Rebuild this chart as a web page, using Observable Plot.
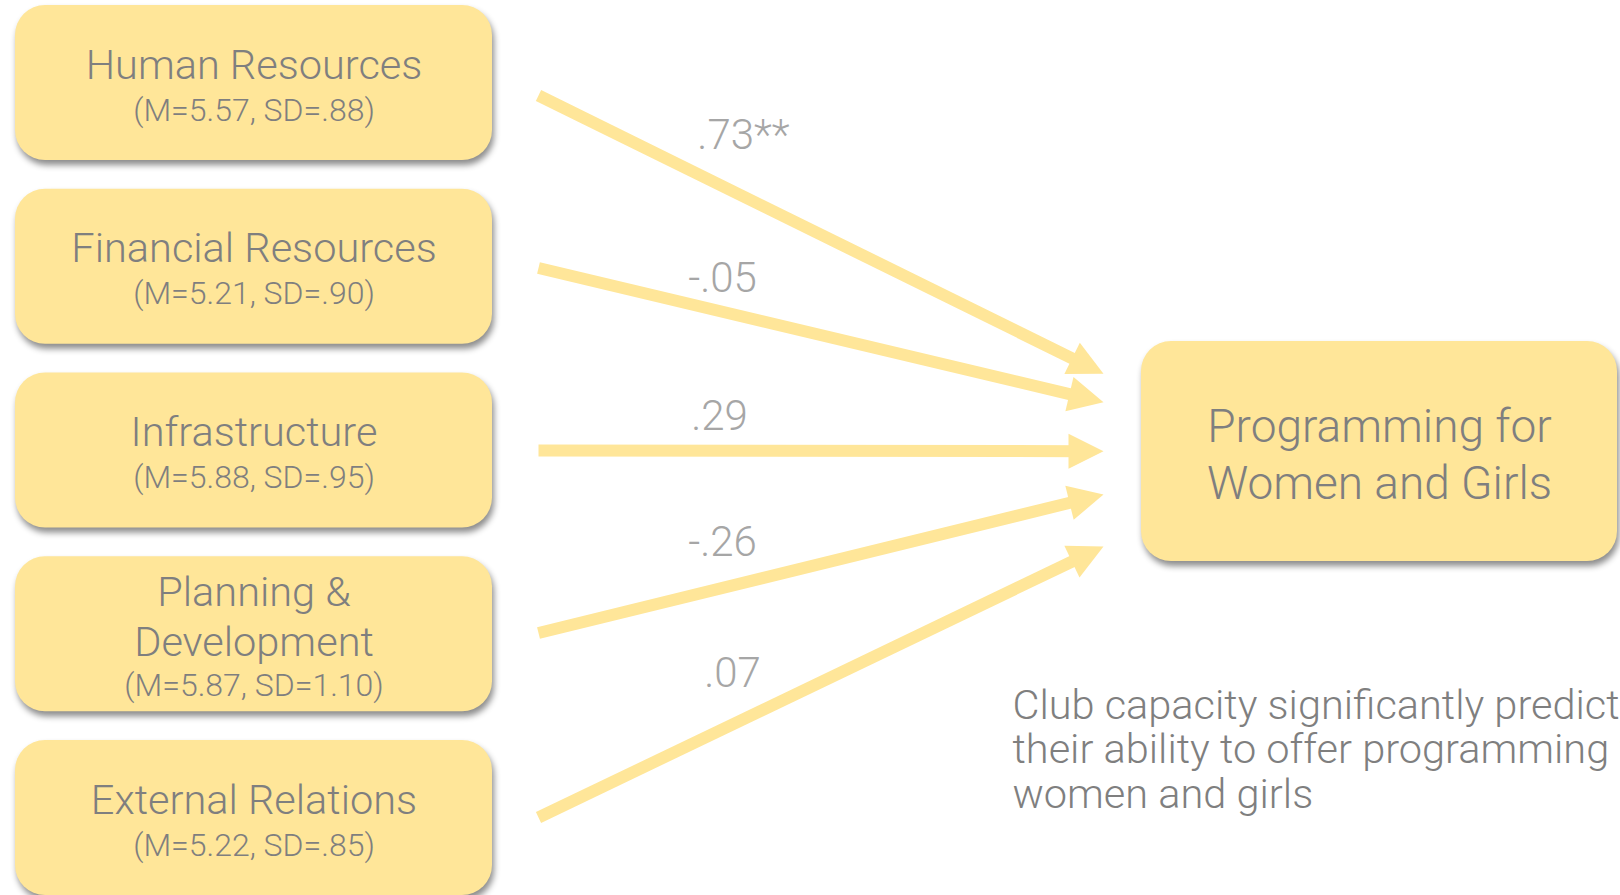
<!DOCTYPE html>
<html>
<head>
<meta charset="utf-8">
<script src="https://cdn.jsdelivr.net/npm/d3@7"></script>
<script src="https://cdn.jsdelivr.net/npm/@observablehq/plot@0.6"></script>
<style>
  html, body { margin: 0; padding: 0; background: #fff; overflow: hidden; }
  #chart svg { overflow: hidden; }
</style>
</head>
<body>
<div id="chart"></div>
<script>
// ---- data ----
const factors = ["Human Resources", "Financial Resources", "Infrastructure", "Planning &\nDevelopment", "External Relations"];
const means = ["5.57", "5.21", "5.88", "5.87", "5.22"];
const sds = [".88", ".90", ".95", "1.10", ".85"];
const coefficients = [".73**", "-.05", ".29", "-.26", ".07"];
const outcome = "Programming for\nWomen and Girls";
const caption = "Club capacity significantly predicts\ntheir ability to offer programming for\nwomen and girls";

// ---- layout (pixels) ----
const W = 1620, H = 895;
const box = {x1: 15, x2: 492, top0: 5, step: 183.75, h: 155, r: 30};
const outBox = {x1: 1141, x2: 1617, y1: 341, y2: 561};
const arrowStartX = 538, arrowTipX = 1103;
const arrowStartY = [95, 267.5, 450, 632.5, 817];
const arrowTipY = [373.3, 401.7, 450.7, 494, 546];
const labelX = [743, 722, 719, 722, 732];
const labelBase = [148, 291, 429, 555, 686];
const headLen = 35, headW = 35;

const FILL = "#FFE699";
const TEXT = "#7f7f7f";
const LABEL = "#a6a6a6";
const FONT = "Roboto, 'Helvetica Neue', Arial, sans-serif";

const mid = fs => 0.32 * fs; // baseline offset for lineAnchor middle

// boxes
const boxes = factors.map((f, i) => ({
  x1: box.x1, x2: box.x2,
  y1: box.top0 + i * box.step, y2: box.top0 + i * box.step + box.h
}));
boxes.push({x1: outBox.x1, x2: outBox.x2, y1: outBox.y1, y2: outBox.y2});

// box text lines
const titleFS = 41.5, subFS = 32, outFS = 46, capFS = 41.5, labFS = 42;
const boxLines = [];
factors.forEach((f, i) => {
  const top = box.top0 + i * box.step;
  const cx = (box.x1 + box.x2) / 2;
  const parts = f.split("\n");
  if (parts.length === 1) {
    boxLines.push({x: cx, y: top + 73 - mid(titleFS), text: parts[0], fs: titleFS});
    boxLines.push({x: cx, y: top + 115 - mid(subFS), text: `(M=${means[i]}, SD=${sds[i]})`, fs: subFS});
  } else {
    parts.forEach((p, j) => boxLines.push({x: cx, y: top + 49 + 50 * j - mid(titleFS), text: p, fs: titleFS}));
    boxLines.push({x: cx, y: top + 139 - mid(subFS), text: `(M=${means[i]}, SD=${sds[i]})`, fs: subFS});
  }
});
const outLines = outcome.split("\n").map((t, j) => ({x: (outBox.x1 + outBox.x2) / 2, y: 441 + 57 * j - mid(outFS), text: t}));
const capLines = caption.split("\n").map((t, j) => ({x: 1012, y: 718 + 44.5 * j - mid(capFS), text: t}));

// arrows
const arrows = coefficients.map((c, i) => {
  const x0 = arrowStartX, y0 = arrowStartY[i], x1 = arrowTipX, y1 = arrowTipY[i];
  const len = Math.hypot(x1 - x0, y1 - y0);
  const ux = (x1 - x0) / len, uy = (y1 - y0) / len;
  return {x0, y0, xe: x1 - ux * 22, ye: y1 - uy * 22, x1, y1, angle: Math.atan2(y1 - y0, x1 - x0) * 180 / Math.PI, coef: c,
          lx: labelX[i], ly: labelBase[i] - mid(labFS)};
});

const arrowHead = {
  draw(ctx) {
    ctx.moveTo(0, 0);
    ctx.lineTo(-headLen, -headW / 2);
    ctx.lineTo(-headLen, headW / 2);
    ctx.closePath();
  }
};

const chart = Plot.plot({
  width: W, height: H, margin: 0,
  x: {type: "identity"}, y: {type: "identity"},
  style: {fontFamily: FONT, background: "#fff"},
  marks: [
    Plot.rect(boxes, {x1: "x1", x2: "x2", y1: "y1", y2: "y2", fill: FILL, rx: box.r, ry: box.r}),
    Plot.link(arrows, {x1: "x0", y1: "y0", x2: "xe", y2: "ye", stroke: FILL, strokeWidth: 12, strokeLinecap: "butt"}),
    Plot.dot(arrows, {x: "x1", y: "y1", rotate: "angle", symbol: arrowHead, r: 10, fill: FILL, stroke: "none"}),
    Plot.text(boxLines, {x: "x", y: "y", text: "text", fontSize: d => d.fs, fill: TEXT, fontWeight: 300, textAnchor: "middle"}),
    Plot.text(outLines, {x: "x", y: "y", text: "text", fontSize: outFS, fill: TEXT, fontWeight: 300, textAnchor: "middle"}),
    Plot.text(capLines, {x: "x", y: "y", text: "text", fontSize: capFS, fill: TEXT, fontWeight: 300, textAnchor: "start"}),
    Plot.text(arrows, {x: "lx", y: "ly", text: "coef", fontSize: labFS, fill: LABEL, fontWeight: 300, textAnchor: "middle"})
  ]
});
chart.querySelectorAll('g[aria-label="rect"]').forEach(g => {
  g.style.filter = "drop-shadow(2px 5px 3px rgba(0,0,0,0.45))";
});
document.getElementById("chart").appendChild(chart);
</script>
</body>
</html>
